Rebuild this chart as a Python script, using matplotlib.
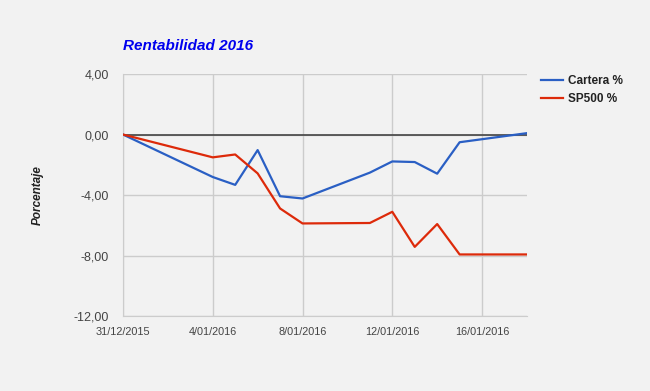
import matplotlib
matplotlib.use("Agg")
import matplotlib.pyplot as plt
import matplotlib.dates as mdates
import pandas as pd

plt.rcParams['font.family'] = ['Liberation Sans', 'DejaVu Sans']

# data
fechas = ["2015-12-31", "2016-01-04", "2016-01-05", "2016-01-06", "2016-01-07",
          "2016-01-08", "2016-01-11", "2016-01-12", "2016-01-13", "2016-01-14",
          "2016-01-15", "2016-01-18"]
cartera = [0.0, -2.81, -3.33, -1.03, -4.08, -4.23, -2.52, -1.78, -1.82, -2.59, -0.51, 0.09]
sp500 = [0.0, -1.51, -1.32, -2.57, -4.89, -5.88, -5.85, -5.11, -7.43, -5.92, -7.93, -7.93]
xticks = ["2015-12-31", "2016-01-04", "2016-01-08", "2016-01-12", "2016-01-16"]
yticks = [4, 0, -4, -8, -12]

x = pd.to_datetime(fechas)
bg = "#f2f2f2"

fig = plt.figure(figsize=(6.5, 3.91), dpi=100, facecolor=bg)
ax = fig.add_axes([0.1892, 0.1918, 0.6215, 0.6189], facecolor=bg)

ax.plot(x, cartera, color="#2a5fc4", lw=1.6, label="Cartera %", zorder=3)
ax.plot(x, sp500, color="#dd2a0a", lw=1.6, label="SP500 %", zorder=3)

ax.set_xlim(pd.Timestamp("2015-12-31"), pd.Timestamp("2016-01-18"))
ax.set_ylim(-12, 4)
ax.set_xticks(pd.to_datetime(xticks))
ax.xaxis.set_major_formatter(plt.FuncFormatter(
    lambda v, p: "%d/%s" % (mdates.num2date(v).day, mdates.num2date(v).strftime("%m/%Y"))))
ax.set_yticks(yticks)
ax.set_yticklabels([("%.2f" % t).replace(".", ",") for t in yticks])

ax.grid(True, color="#cccccc", lw=1)
ax.axhline(0, color="#444444", lw=1.2, zorder=2)
for s in ["top", "right"]:
    ax.spines[s].set_visible(False)
for s in ["left", "bottom"]:
    ax.spines[s].set_color("#cccccc")
ax.tick_params(length=0, colors="#444444")
ax.tick_params(axis="y", labelsize=9, pad=10)
ax.tick_params(axis="x", labelsize=7.8, pad=8)

fig.text(0.1892, 0.882, "Rentabilidad 2016", color="#0000ee", fontsize=11,
         fontweight="bold", fontstyle="italic", va="center")
fig.text(0.058, 0.5, "Porcentaje", rotation=90, fontsize=8.5, fontweight="bold",
         fontstyle="italic", va="center", ha="center", color="#222222")

leg = fig.legend(loc="upper left", bbox_to_anchor=(0.832, 0.807), frameon=False,
                 handlelength=1.9, handletextpad=0.4, borderpad=0, borderaxespad=0,
                 fontsize=8.5, labelspacing=0.5)
for t in leg.get_texts():
    t.set_fontweight("bold")
    t.set_color("#222222")

fig.savefig("out.png", dpi=100, facecolor=bg)
